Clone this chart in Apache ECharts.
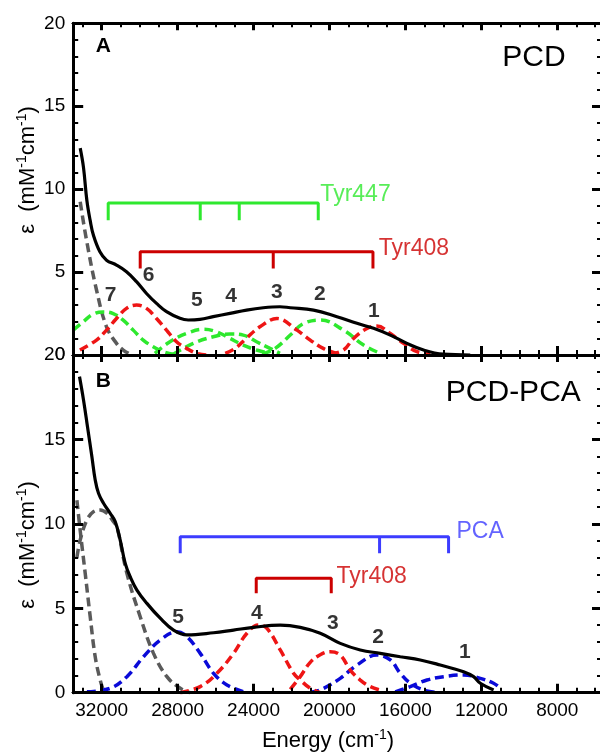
<!DOCTYPE html>
<html><head><meta charset="utf-8">
<script src="https://cdn.jsdelivr.net/npm/echarts@6/dist/echarts.min.js"></script>
<style>html,body{margin:0;padding:0;background:#fff}#wrap{position:relative;width:600px;height:755px}#axes,#c{position:absolute;left:0;top:0;width:600px;height:755px}#c{z-index:1}#axes{z-index:2}#nudge{position:absolute;left:560px;top:730px;width:30px;height:16px;font:10px monospace;color:#fff;background:#fff;z-index:3}</style>
</head><body><div id="wrap"><div id="c"></div><div id="axes"></div><div id="nudge">.</div></div>
<script>
// ---------- Panel A (PCD) ----------
const energyA_total = [33131, 32957, 32778, 32604, 32430, 32093, 31745, 31219, 30692, 30165, 29638, 29111, 28584, 27878, 27441, 26824, 26123, 25244, 24369, 23489, 22609, 22066, 20839, 19606, 18552, 17677, 16797, 15917, 15043, 14005, 12582];
const epsA_total    = [12.47, 11.3, 9.3, 8.1, 7.2, 6.22, 5.72, 5.42, 5.02, 4.42, 3.71, 3.11, 2.61, 2.21, 2.11, 2.15, 2.31, 2.51, 2.71, 2.85, 2.91, 2.85, 2.71, 2.31, 1.91, 1.61, 1.2, 0.7, 0.3, 0.05, 0];

const energyA_gray = [33131, 32799, 32272, 31745, 31219, 30866, 30497];
const epsA_gray    = [9.24, 6.93, 3.92, 1.7, 0.7, 0.3, 0.05];

const energyA_g7 = [33500, 32973, 32446, 31919, 31392, 30866, 30339, 29812, 29285, 28758, 28231];
const epsA_g7    = [1.5, 2.0, 2.47, 2.6, 2.5, 2.1, 1.5, 0.9, 0.5, 0.2, 0.05];
const energyA_g5 = [29196, 28405, 27530, 26650, 25948, 25244, 24543, 23841, 23136];
const epsA_g5    = [0.1, 0.8, 1.3, 1.55, 1.4, 1.0, 0.6, 0.3, 0.1];
const energyA_g4 = [28231, 27177, 26123, 25244, 24543, 23841, 23136, 22609];
const epsA_g4    = [0.05, 0.7, 1.1, 1.27, 1.2, 0.8, 0.4, 0.1];
const energyA_g2 = [23542, 22857, 21977, 21366, 20486, 19258, 18204, 17324];
const epsA_g2    = [0.05, 0.4, 1.3, 1.9, 2.11, 1.5, 0.6, 0.1];

const energyA_r6 = [33147, 32272, 31745, 31219, 30692, 30165, 29638, 29111, 28584, 28057, 27530, 27003, 26492];
const epsA_r6    = [0.3, 0.9, 1.5, 2.2, 2.81, 3.01, 2.81, 2.2, 1.5, 0.8, 0.4, 0.1, 0.0];
const energyA_r3 = [25491, 24964, 24385, 23663, 22767, 21713, 21013, 20328, 19606];
const epsA_r3    = [0.1, 0.4, 1.0, 1.7, 2.2, 1.5, 0.9, 0.4, 0.1];
const energyA_r1 = [19959, 19258, 18731, 18025, 17498, 16797, 16095, 15390, 14690];
const epsA_r1    = [0.05, 0.3, 1.0, 1.6, 1.75, 1.3, 0.7, 0.2, 0.05];

const peakLabelsA = ['7', '6', '5', '4', '3', '2', '1'];
const peakLabelEA = [31498, 29506, 26956, 25159, 22751, 20486, 17640];
const peakLabelYA = [3.58, 4.77, 3.27, 3.51, 3.77, 3.66, 2.61];

const tyr447E = [31656, 26808, 24753, 20591];
const tyr447Level = [9.16, 8.13];
const tyr408AE = [29970, 22962, 17709];
const tyr408ALevel = [6.22, 5.22];
const tyr447TextAt = [20454, 9.64];
const tyr408ATextAt = [17377, 6.39];

// ---------- Panel B (PCD-PCA) ----------
const energyB_total = [33168, 32957, 32747, 32515, 32341, 32167, 31903, 31550, 31287, 31024, 30760, 30497, 30144, 29617, 28916, 28215, 27509, 26108, 25054, 23999, 22593, 21540, 20486, 19432, 18378, 17324, 16271, 15217, 14163, 12935, 12408, 12055, 11354];
const epsB_total    = [18.72, 17.34, 15.75, 13.98, 12.6, 11.81, 11.22, 10.62, 10.13, 9.04, 7.66, 6.87, 6.08, 5.29, 4.41, 3.71, 3.42, 3.55, 3.71, 3.87, 4.0, 3.87, 3.52, 2.92, 2.53, 2.33, 2.13, 1.94, 1.64, 1.24, 0.95, 0.56, 0.16];

const energyB_gray1 = [33305, 33131, 32868, 32604, 32341, 32077, 31903, 31724];
const epsB_gray1    = [11.4, 9.6, 7.07, 4.5, 2.13, 0.75, 0.16, 0.0];
const energyB_gray2 = [33305, 33131, 32778, 32430, 32077, 31724, 31377, 31197, 30671, 29970, 29269, 28563, 27862, 27335];
const epsB_gray2    = [8.0, 9.04, 10.23, 10.72, 10.82, 10.63, 10.13, 9.83, 7.07, 4.5, 2.33, 0.95, 0.26, 0];

const energyB_b5 = [32778, 31550, 30671, 29796, 28916, 28036, 27509, 26808, 26108, 25401, 24527];
const epsB_b5    = [0.05, 0.26, 0.95, 2.13, 3.12, 3.61, 3.32, 2.33, 1.15, 0.46, 0.05];
const energyB_b2 = [21013, 20486, 19432, 18552, 17498, 16797, 16271, 15744, 15043, 14374];
const epsB_b2    = [0.02, 0.16, 0.85, 1.64, 2.23, 1.94, 1.15, 0.56, 0.16, 0.02];
const energyB_b1 = [16534, 15744, 14864, 13989, 12935, 12055, 11354, 11090];
const epsB_b1    = [0.05, 0.36, 0.75, 0.95, 1.05, 0.85, 0.56, 0.36];

const energyB_r4 = [27862, 26808, 25928, 25054, 24348, 23736, 23294, 22593, 21892, 21540, 21013, 20486];
const epsB_r4    = [0, 0.36, 1.15, 2.33, 3.52, 4.01, 3.81, 2.53, 1.15, 0.75, 0.26, 0];
const energyB_r3 = [22066, 21540, 21013, 20486, 19959, 19432, 18905, 18378, 17851, 17150];
const epsB_r3    = [0.2, 0.95, 1.8, 2.25, 2.43, 2.23, 1.34, 0.75, 0.36, 0.1];

const peakLabelsB = ['5', '4', '3', '2', '1'];
const peakLabelEB = [27952, 23805, 19801, 17414, 12845];
const peakLabelYB = [4.45, 4.70, 4.06, 3.27, 2.38];

const pcaE = [27862, 17361, 13726];
const pcaLevel = [9.24, 8.26];
const tyr408BE = [23858, 19906];
const tyr408BLevel = [6.78, 5.89];
const pcaTextAt = [13283, 9.49];
const tyr408BTextAt = [19606, 6.87];

// ---------- axes ----------
const xMin = 4000, xMax = 33500;
const xMajorStep = 4000, xMinorStep = 1000;
const yMin = 0, yMax = 20, yStep = 5;

// ---------- build ----------
const FONT = '"Liberation Sans", Arial, Helvetica, sans-serif';
const zip = (xs, ys) => xs.map((x, i) => [x, ys[i]]);
const BLACK = '#000000', GRAY = '#5a5a5a', GREEN = '#2ee82e', RED = '#ee1515', DRED = '#cc0000', BLUE = '#0a0ad8', LBLUE = '#3c3cff';

function makeGrids() {
  return [
    { left: 73.2, top: 23.3, width: 560, height: 331.7, outerBoundsMode: 'none', show: false },
    { left: 73.2, top: 355, width: 560, height: 337.7, outerBoundsMode: 'none', show: false }
  ];
}

// ----- axes layer (frame, ticks, tick labels) : drawn on top -----
function xAx(gi, pos, major, showLabel) {
  const isTop = pos === 'top';
  return {
    type: 'value', gridIndex: gi, position: pos, inverse: true,
    min: xMin, max: xMax, interval: major ? xMajorStep : xMinorStep,
    axisLine: { show: true, onZero: false, lineStyle: { color: '#000', width: 3 } },
    axisTick: { show: true, inside: true, length: major ? (isTop ? 7 : 9) : (isTop ? 4 : 5), lineStyle: { color: '#000', width: major ? 3 : 2 } },
    axisLabel: { show: showLabel, margin: 9, color: '#000', fontSize: 19, fontFamily: FONT,
      formatter: v => (v % 4000 === 0 ? String(v) : '') },
    splitLine: { show: false }
  };
}
function yAx(gi, pos) {
  const left = pos === 'left';
  return {
    type: 'value', gridIndex: gi, position: pos, min: yMin, max: yMax, interval: yStep,
    offset: left ? 0 : -33.2,
    axisLine: { show: left, onZero: false, lineStyle: { color: '#000', width: 3 } },
    axisTick: { show: true, inside: true, length: left ? 10 : 8, lineStyle: { color: '#000', width: 3 } },
    minorTick: { show: true, splitNumber: 5, length: left ? 5 : 3, lineStyle: { color: '#000', width: 2 } },
    axisLabel: { show: left, margin: 8, color: '#000', fontSize: 19, fontFamily: FONT },
    splitLine: { show: false }, minorSplitLine: { show: false }
  };
}
const axesOption = {
  animation: false,
  backgroundColor: 'transparent',
  grid: makeGrids(),
  xAxis: [
    xAx(0, 'bottom', true, false), xAx(0, 'bottom', false, false),
    xAx(0, 'top', true, false), xAx(0, 'top', false, false),
    xAx(1, 'bottom', true, true), xAx(1, 'bottom', false, false),
    xAx(1, 'top', true, false), xAx(1, 'top', false, false)
  ],
  yAxis: [yAx(0, 'left'), yAx(0, 'right'), yAx(1, 'left'), yAx(1, 'right')],
  series: [
    { type: 'line', xAxisIndex: 0, yAxisIndex: 0, data: [[30000, 5], [20000, 3]], symbol: 'none', silent: true, lineStyle: { opacity: 0 } },
    { type: 'line', xAxisIndex: 4, yAxisIndex: 2, data: [[30000, 5], [20000, 3]], symbol: 'none', silent: true, lineStyle: { opacity: 0 } }
  ]
};

// ----- plot layer (curves, brackets, texts) : drawn underneath -----
function hiddenX(gi) { return { type: 'value', gridIndex: gi, inverse: true, min: xMin, max: xMax, show: false }; }
function hiddenY(gi) { return { type: 'value', gridIndex: gi, min: yMin, max: yMax, show: false }; }

const series = [];
function curve(xs, ys, color, dashed, xi, yi) {
  series.push({
    type: 'line', xAxisIndex: xi, yAxisIndex: yi, data: zip(xs, ys), symbol: 'none',
    smooth: 0.4, z: dashed ? 2 : 3, silent: true,
    lineStyle: { color: color, width: dashed ? 3.5 : 3.2, type: dashed ? [9, 5] : 'solid' }
  });
}
function bracket(E, lev, color, xi, yi) {
  const top = lev[0], bot = lev[1];
  const n = E.length;
  series.push({ type: 'line', xAxisIndex: xi, yAxisIndex: yi, symbol: 'none', z: 4, silent: true,
    data: [[E[0], bot], [E[0], top], [E[n - 1], top], [E[n - 1], bot]],
    lineStyle: { color: color, width: 3 } });
  for (let i = 1; i < n - 1; i++) {
    series.push({ type: 'line', xAxisIndex: xi, yAxisIndex: yi, symbol: 'none', z: 4, silent: true,
      data: [[E[i], top], [E[i], bot]], lineStyle: { color: color, width: 3 } });
  }
}
function textAt(pt, txt, color, xi, yi) {
  series.push({ type: 'scatter', xAxisIndex: xi, yAxisIndex: yi, symbolSize: 1, z: 6, silent: true,
    itemStyle: { color: 'rgba(0,0,0,0)' },
    data: [{ value: pt, name: txt }],
    label: { show: true, position: [0, 0], align: 'left', verticalAlign: 'middle', formatter: '{b}', color: color,
      fontSize: 23, fontFamily: FONT } });
}
function peakLabels(E, Y, names, xi, yi) {
  series.push({ type: 'scatter', xAxisIndex: xi, yAxisIndex: yi, symbolSize: 1, z: 6, silent: true,
    itemStyle: { color: 'rgba(0,0,0,0)' },
    data: E.map((e, i) => ({ value: [e, Y[i]], name: names[i] })),
    label: { show: true, position: [0, 0], align: 'center', verticalAlign: 'middle', formatter: '{b}', color: '#000',
      fontSize: 21, fontWeight: 'bold', fontFamily: FONT } });
}

// Panel A
curve(energyA_gray, epsA_gray, GRAY, true, 0, 0);
curve(energyA_g7, epsA_g7, GREEN, true, 0, 0);
curve(energyA_g5, epsA_g5, GREEN, true, 0, 0);
curve(energyA_g4, epsA_g4, GREEN, true, 0, 0);
curve(energyA_g2, epsA_g2, GREEN, true, 0, 0);
curve(energyA_r6, epsA_r6, RED, true, 0, 0);
curve(energyA_r3, epsA_r3, RED, true, 0, 0);
curve(energyA_r1, epsA_r1, RED, true, 0, 0);
curve(energyA_total, epsA_total, BLACK, false, 0, 0);
bracket(tyr447E, tyr447Level, GREEN, 0, 0);
bracket(tyr408AE, tyr408ALevel, DRED, 0, 0);
textAt(tyr447TextAt, 'Tyr447', GREEN, 0, 0);
textAt(tyr408ATextAt, 'Tyr408', DRED, 0, 0);
peakLabels(peakLabelEA, peakLabelYA, peakLabelsA, 0, 0);

// Panel B
curve(energyB_gray1, epsB_gray1, GRAY, true, 1, 1);
curve(energyB_gray2, epsB_gray2, GRAY, true, 1, 1);
curve(energyB_b5, epsB_b5, BLUE, true, 1, 1);
curve(energyB_b2, epsB_b2, BLUE, true, 1, 1);
curve(energyB_b1, epsB_b1, BLUE, true, 1, 1);
curve(energyB_r4, epsB_r4, RED, true, 1, 1);
curve(energyB_r3, epsB_r3, RED, true, 1, 1);
curve(energyB_total, epsB_total, BLACK, false, 1, 1);
bracket(pcaE, pcaLevel, LBLUE, 1, 1);
bracket(tyr408BE, tyr408BLevel, DRED, 1, 1);
textAt(pcaTextAt, 'PCA', LBLUE, 1, 1);
textAt(tyr408BTextAt, 'Tyr408', DRED, 1, 1);
peakLabels(peakLabelEB, peakLabelYB, peakLabelsB, 1, 1);

const supRich = {
  a: { fontSize: 22, fontFamily: FONT, fill: '#000', color: '#000', lineHeight: 26 },
  s: { fontSize: 14, fontFamily: FONT, fill: '#000', color: '#000', verticalAlign: 'top', lineHeight: 26 }
};
function gText(x, y, text, size, bold, rot, rich) {
  return { type: 'text', x: x, y: y, rotation: rot || 0, silent: true, z: 10,
    style: { text: text, fill: '#000', font: (bold ? 'bold ' : '') + size + 'px ' + FONT,
      align: 'center', verticalAlign: 'middle', rich: rich } };
}

const plotOption = {
  animation: false,
  backgroundColor: 'transparent',
  grid: makeGrids(),
  xAxis: [hiddenX(0), hiddenX(1)],
  yAxis: [hiddenY(0), hiddenY(1)],
  series: series,
  graphic: [
    gText(103.3, 45.8, 'A', 21, true),
    gText(103.3, 380.8, 'B', 21, true),
    gText(534, 57.5, 'PCD', 30, false),
    gText(513.3, 392.5, 'PCD-PCA', 30, false),
    gText(328, 741, '{a|Energy (cm}{s|-1}{a|)}', 22, false, 0, supRich),
    gText(28, 170, '{a|\u03b5  (mM}{s|-1}{a|cm}{s|-1}{a|)}', 22, false, Math.PI / 2, supRich),
    gText(28, 545, '{a|\u03b5  (mM}{s|-1}{a|cm}{s|-1}{a|)}', 22, false, Math.PI / 2, supRich)
  ]
};

const chart = echarts.init(document.getElementById('c'), null, { renderer: 'canvas' });
chart.setOption(plotOption);
const axesChart = echarts.init(document.getElementById('axes'), null, { renderer: 'canvas' });
axesChart.setOption(axesOption);

// repaint after the first frame (and touch the DOM so a new frame is composed)
function settle(tag) {
  [chart, axesChart].forEach(function (c) {
    const zr = c.getZr();
    zr.storage.getDisplayList(true, true);
    zr.refreshImmediately();
  });
  document.getElementById('nudge').textContent = tag;
}
setTimeout(function () { settle('..'); }, 50);
setTimeout(function () { settle('...'); }, 150);
</script></body></html>
